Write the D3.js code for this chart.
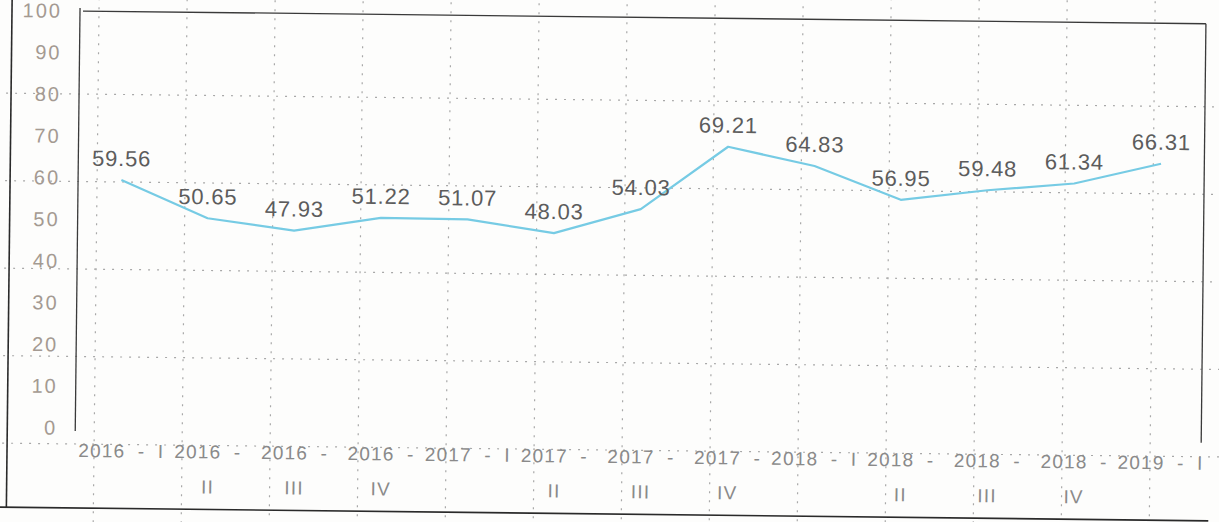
<!DOCTYPE html>
<html>
<head>
<meta charset="utf-8">
<script src="https://cdn.jsdelivr.net/npm/d3@7"></script>
<style>
  html, body { margin: 0; padding: 0; background: #fdfdfc; }
  svg { display: block; font-family: "Liberation Sans", Arial, sans-serif; }
</style>
</head>
<body>
<svg id="chart" width="1219" height="522"></svg>
<script>
const categories = ["2016 - I", "2016 - II", "2016 - III", "2016 - IV", "2017 - I", "2017 - II", "2017 - III", "2017 - IV", "2018 - I", "2018 - II", "2018 - III", "2018 - IV", "2019 - I"];
const values = [59.56, 50.65, 47.93, 51.22, 51.07, 48.03, 54.03, 69.21, 64.83, 56.95, 59.48, 61.34, 66.31];
const yTicks = [0, 10, 20, 30, 40, 50, 60, 70, 80, 90, 100];

const W = 1219, H = 522;
const plot = { left: 80, right: 1206, top: 11, bottom: 428 };

const svg = d3.select("#chart");
const root = svg.append("g").attr("transform", `rotate(0.65, ${plot.left}, ${plot.top})`);

// paper grid (dotted, from the scanned page)
const gridX = d3.range(99, W + 20, 88);
const gridY = d3.range(94, H + 20, 87.5);
root.append("g").selectAll("line").data(gridX).join("line")
  .attr("x1", d => d).attr("x2", d => d).attr("y1", -20).attr("y2", H + 20)
  .attr("stroke", "#a8a8a8").attr("stroke-width", 1.2).attr("stroke-dasharray", "2,7");
root.append("g").selectAll("line").data(gridY).join("line")
  .attr("x1", -20).attr("x2", W + 20).attr("y1", d => d).attr("y2", d => d)
  .attr("stroke", "#a8a8a8").attr("stroke-width", 1.2).attr("stroke-dasharray", "2,7");

// scales
const x = d3.scaleBand().domain(categories).range([plot.left, plot.right]).padding(0);
const y = d3.scaleLinear().domain([0, 100]).range([plot.bottom, plot.top]);
const cx = c => x(c) + x.bandwidth() / 2;

// outer chart frame (left and bottom visible)
root.append("line").attr("x1", 12).attr("x2", 12).attr("y1", -20).attr("y2", 508)
  .attr("stroke", "#2a2a2a").attr("stroke-width", 1.6);
root.append("line").attr("x1", 4).attr("x2", 1214).attr("y1", 508).attr("y2", 508)
  .attr("stroke", "#2a2a2a").attr("stroke-width", 1.6);

// plot box: top and right
root.append("line").attr("x1", plot.left + 3).attr("x2", plot.right).attr("y1", plot.top).attr("y2", plot.top)
  .attr("stroke", "#3a3a3a").attr("stroke-width", 1.3);
root.append("line").attr("x1", plot.right).attr("x2", plot.right).attr("y1", plot.top).attr("y2", plot.bottom + 2)
  .attr("stroke", "#3a3a3a").attr("stroke-width", 1.3);

// y axis
const yAxis = d3.axisLeft(y).tickValues(yTicks).tickSize(0).tickPadding(18);
const yG = root.append("g").attr("transform", `translate(${plot.left},0)`).call(yAxis);
yG.select(".domain").attr("stroke", "#3a3a3a").attr("stroke-width", 1.3).attr("d", `M0,${plot.top - 3}V${plot.bottom + 3}`);
yG.selectAll("text").attr("font-size", 20).attr("fill", "#a49a92")
  .attr("letter-spacing", 2)
  .attr("font-family", "'Liberation Sans', Arial, sans-serif");

// x axis labels (wrapped)
const xAxis = d3.axisBottom(x).tickSize(0).tickPadding(0);
const xG = root.append("g").attr("transform", `translate(0,${plot.bottom})`).call(xAxis);
xG.select(".domain").remove();
xG.selectAll("text").each(function(d) {
  const t = d3.select(this);
  t.text(null).attr("y", 0).attr("dy", null)
    .attr("font-size", 19).attr("fill", "#8a8a8a")
    .attr("letter-spacing", 1.2).attr("word-spacing", 6)
    .attr("font-family", "'Liberation Sans', Arial, sans-serif");
  const m = d.match(/^(.*-)\s(I{1,3}|IV)$/);
  const lines = (m && m[2] !== "I") ? [m[1], m[2]] : [d];
  lines.forEach((ln, i) => {
    t.append("tspan").attr("x", 3).attr("y", 29 + i * 35).text(ln);
  });
});

// line
const line = d3.line().x((d, i) => cx(categories[i])).y(d => y(d));
root.append("path").datum(values)
  .attr("fill", "none").attr("stroke", "#76cbe4").attr("stroke-width", 2.2)
  .attr("stroke-linejoin", "round").attr("d", line);

// data labels
root.append("g").selectAll("text").data(values).join("text")
  .attr("x", (d, i) => cx(categories[i]))
  .attr("y", d => y(d) - 14)
  .attr("text-anchor", "middle")
  .attr("font-size", 22).attr("fill", "#5c5c5c")
  .attr("letter-spacing", 0.8)
  .text(d => d.toFixed(2));
</script>
</body>
</html>
